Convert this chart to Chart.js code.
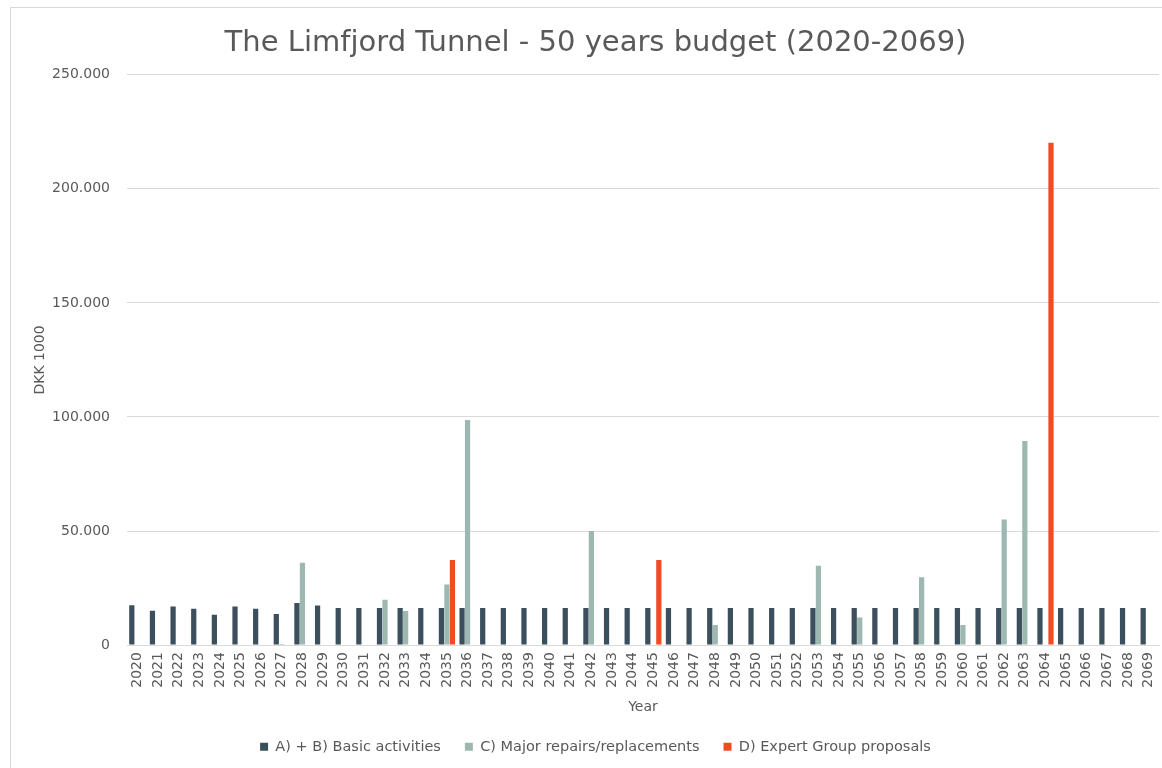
<!DOCTYPE html>
<html>
<head>
<meta charset="utf-8">
<script src="https://cdn.jsdelivr.net/npm/chart.js@4"></script>
<style>
  html, body { margin: 0; padding: 0; background: #fff; }
  #frame {
    position: absolute; left: 10px; top: 7px; width: 1170px; height: 780px;
    border: 1px solid #d9d9d9; box-sizing: border-box;
  }
  #wrap { position: absolute; left: 0; top: 0; width: 1162px; height: 768px; }
</style>
</head>
<body>
<div id="frame"></div>
<div id="wrap"><canvas id="budgetChart" width="1162" height="768"></canvas></div>
<script>
// Limfjord Tunnel budget, DKK 1000 per year
const years = [
  "2020", "2021", "2022", "2023", "2024", "2025", "2026", "2027", "2028", "2029",
  "2030", "2031", "2032", "2033", "2034", "2035", "2036", "2037", "2038", "2039",
  "2040", "2041", "2042", "2043", "2044", "2045", "2046", "2047", "2048", "2049",
  "2050", "2051", "2052", "2053", "2054", "2055", "2056", "2057", "2058", "2059",
  "2060", "2061", "2062", "2063", "2064", "2065", "2066", "2067", "2068", "2069",
];

const basicActivities = [
  17500, 15000, 16900, 15900, 13300, 16900, 15900, 13600, 18400, 17300,
  16200, 16200, 16200, 16200, 16200, 16200, 16200, 16200, 16200, 16200,
  16200, 16200, 16200, 16200, 16200, 16200, 16200, 16200, 16200, 16200,
  16200, 16200, 16200, 16200, 16200, 16200, 16200, 16200, 16200, 16200,
  16200, 16200, 16200, 16200, 16200, 16200, 16200, 16200, 16200, 16200,
];

const majorRepairs = [
  0, 0, 0, 0, 0, 0, 0, 500, 36100, 0,
  0, 0, 19900, 14900, 0, 26600, 98700, 0, 0, 0,
  0, 0, 50000, 0, 0, 0, 0, 0, 8800, 0,
  0, 0, 0, 34800, 0, 12100, 0, 0, 29700, 0,
  8800, 0, 55100, 89500, 0, 0, 0, 0, 0, 0,
];

const expertProposals = [
  0, 0, 0, 0, 0, 0, 0, 0, 0, 0,
  0, 0, 0, 0, 0, 37300, 0, 0, 0, 0,
  0, 0, 0, 0, 0, 37300, 0, 0, 0, 0,
  0, 0, 0, 0, 0, 0, 0, 0, 0, 0,
  0, 0, 0, 0, 220200, 0, 0, 0, 0, 0,
];

const textColor = "#595959";
const fontFamily = "'DejaVu Sans', Verdana, sans-serif";

new Chart(document.getElementById("budgetChart"), {
  type: "bar",

  data: {
    labels: years,

    datasets: [
      {
        label: "A) + B) Basic activities",
        data: basicActivities,
        backgroundColor: "#3b4f5c",
      },
      {
        label: "C) Major repairs/replacements",
        data: majorRepairs,
        backgroundColor: "#9db8b0",
      },
      {
        label: "D) Expert Group proposals",
        data: expertProposals,
        backgroundColor: "#f04b23",
      },
    ],
  },

  options: {
    responsive: false,
    animation: false,
    devicePixelRatio: 1,

    layout: {
      padding: { left: 32, right: 3, top: 26, bottom: 4 },
    },

    datasets: {
      bar: {
        categoryPercentage: 0.8,
        barPercentage: 0.95,
      },
    },

    plugins: {
      title: {
        display: true,
        text: "The Limfjord Tunnel - 50 years budget (2020-2069)",
        color: textColor,
        font: { family: fontFamily, size: 29, weight: "normal" },
        padding: { top: 0, bottom: 14 },
      },

      legend: {
        position: "bottom",
        labels: {
          color: textColor,
          font: { family: fontFamily, size: 14.5 },
          boxWidth: 8,
          boxHeight: 8,
          padding: 24,
        },
      },

      tooltip: { enabled: false },
    },

    scales: {
      x: {
        grid: { display: false, drawTicks: false },
        border: { color: "#d9d9d9" },
        ticks: {
          color: textColor,
          font: { family: fontFamily, size: 14 },
          minRotation: 90,
          maxRotation: 90,
          autoSkip: false,
          padding: 7,
        },
        title: {
          display: true,
          text: "Year",
          color: textColor,
          font: { family: fontFamily, size: 14 },
          padding: { top: 4, bottom: 0 },
        },
        afterFit: function (scale) {
          scale.paddingLeft = 0;
          scale.paddingRight = 0;
        },
      },

      y: {
        min: 0,
        max: 250000,
        grid: { color: "#d9d9d9", drawTicks: false },
        border: { display: false },
        ticks: {
          stepSize: 50000,
          color: textColor,
          font: { family: fontFamily, size: 14 },
          padding: 17,
          callback: function (value) {
            return value.toLocaleString("en-US").replace(/,/g, ".");
          },
        },
        title: {
          display: true,
          text: "DKK 1000",
          color: textColor,
          font: { family: fontFamily, size: 14 },
          padding: { top: 0, bottom: 4 },
        },
        afterFit: function (scale) {
          scale.width = 95;
        },
      },
    },
  },
});
</script>
</body>
</html>
